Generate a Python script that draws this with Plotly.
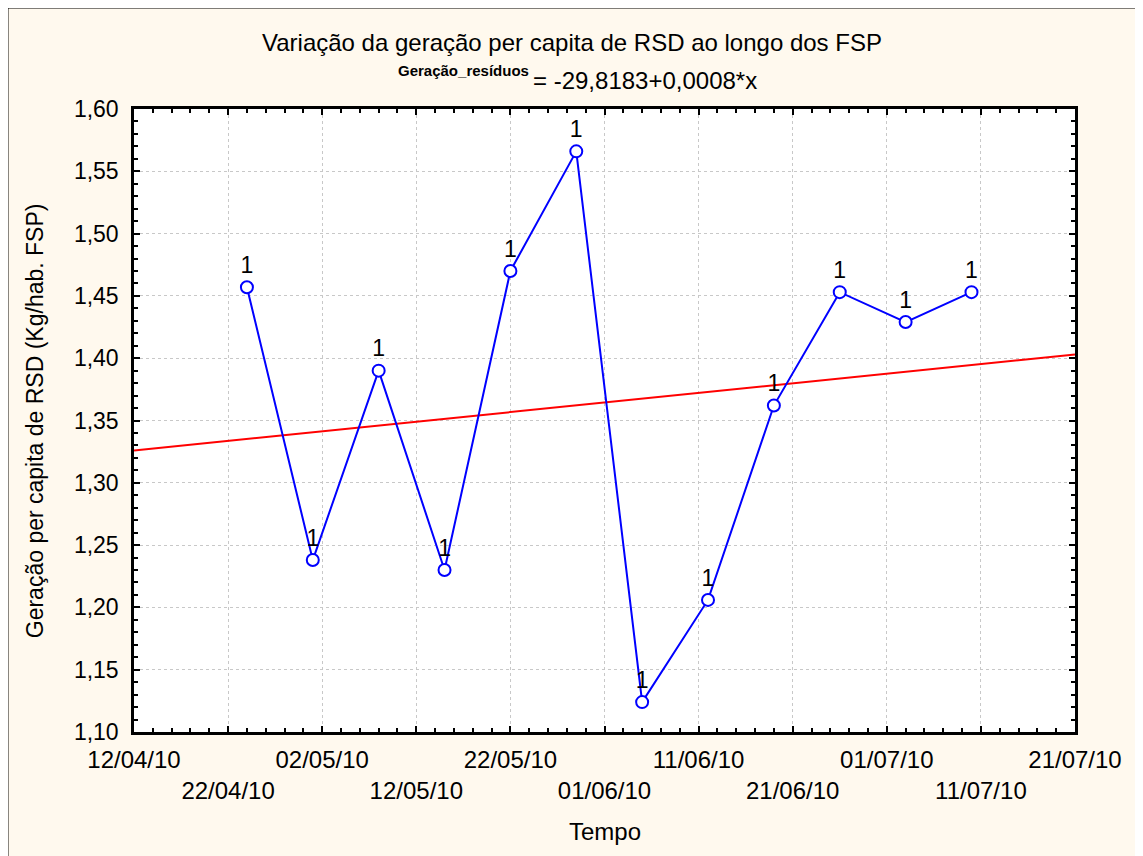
import numpy as np
import pandas as pd
import plotly.graph_objects as go

# ---- data ----
dates = ["2010-04-24", "2010-05-01", "2010-05-08", "2010-05-15", "2010-05-22", "2010-05-29",
         "2010-06-05", "2010-06-12", "2010-06-19", "2010-06-26", "2010-07-03", "2010-07-10"]
values = [1.457, 1.238, 1.390, 1.230, 1.470, 1.566, 1.124, 1.206, 1.362, 1.453, 1.429, 1.453]
point_labels = ["1"] * len(values)

x_tick_dates = ["2010-04-12", "2010-04-22", "2010-05-02", "2010-05-12", "2010-05-22", "2010-06-01",
                "2010-06-11", "2010-06-21", "2010-07-01", "2010-07-11", "2010-07-21"]
x_tick_text = ["12/04/10", "22/04/10", "02/05/10", "12/05/10", "22/05/10", "01/06/10",
               "11/06/10", "21/06/10", "01/07/10", "11/07/10", "21/07/10"]
y_tick_vals = [1.10, 1.15, 1.20, 1.25, 1.30, 1.35, 1.40, 1.45, 1.50, 1.55, 1.60]
y_tick_text = ["1,10", "1,15", "1,20", "1,25", "1,30", "1,35", "1,40", "1,45", "1,50", "1,55", "1,60"]

title_text = "Variação da geração per capita de RSD ao longo dos FSP"
eq_var = "Geração_resíduos"
eq_text = "= -29,8183+0,0008*x"
x_title = "Tempo"
y_title = "Geração per capita de RSD (Kg/hab. FSP)"

x_start, x_end = x_tick_dates[0], x_tick_dates[-1]

# ---- regression line (computed from data) ----
d = pd.to_datetime(dates)
t0 = pd.Timestamp(x_start)
days = np.array([(v - t0).days for v in d], dtype=float)
slope, intercept = np.polyfit(days, np.array(values), 1)
fit_x = pd.to_datetime([x_start, x_end])
fit_days = np.array([(v - t0).days for v in fit_x], dtype=float)
fit_y = intercept + slope * fit_days

# alternate tick labels onto two rows
tick_text_rows = [t if i % 2 == 0 else "<br>" + t for i, t in enumerate(x_tick_text)]

FONT = "Arial, 'Liberation Sans', sans-serif"

fig = go.Figure()
fig.add_trace(go.Scatter(x=fit_x, y=fit_y, mode="lines",
                         line=dict(color="#ff0000", width=2), hoverinfo="skip"))
fig.add_trace(go.Scatter(x=d, y=values, mode="lines+markers+text",
                         text=point_labels, textposition="top center",
                         textfont=dict(family=FONT, size=23, color="black"),
                         line=dict(color="#0000ff", width=2),
                         marker=dict(symbol="circle", size=12, color="white",
                                     line=dict(color="#0000ff", width=2))))

DAY = 86400000
fig.update_xaxes(type="date", range=[x_start, x_end],
                 tickvals=x_tick_dates, ticktext=tick_text_rows, tickangle=0,
                 tickfont=dict(family=FONT, size=24, color="black"),
                 ticks="inside", ticklen=6, tickwidth=2, tickcolor="black",
                 ticklabelstandoff=4,
                 showline=True, linewidth=2.5, linecolor="black", mirror="ticks",
                 showgrid=True, gridcolor="#c8c8c8", gridwidth=1, griddash="dot",
                 zeroline=False,
                 minor=dict(ticks="inside", ticklen=4, tickwidth=1.5, tickcolor="black",
                            dtick=2 * DAY, tick0=x_start, showgrid=False))
fig.update_yaxes(range=[1.10, 1.60], tickvals=y_tick_vals, ticktext=y_tick_text,
                 tickfont=dict(family=FONT, size=23, color="black"),
                 ticks="inside", ticklen=6, tickwidth=2, tickcolor="black",
                 ticklabelstandoff=8,
                 showline=True, linewidth=2.5, linecolor="black", mirror="ticks",
                 showgrid=True, gridcolor="#c8c8c8", gridwidth=1, griddash="dot",
                 zeroline=False,
                 minor=dict(ticks="inside", ticklen=4, tickwidth=1.5, tickcolor="black",
                            dtick=0.01, showgrid=False))

fig.update_layout(
    width=1143, height=856,
    margin=dict(l=126, r=76, t=101, b=132),
    paper_bgcolor="#fff9ee", plot_bgcolor="white",
    showlegend=False,
    font=dict(family=FONT, color="black"),
    annotations=[
        dict(text=title_text, xref="paper", yref="paper", x=0.4655, y=1.1075,
             xanchor="center", yanchor="middle", showarrow=False,
             font=dict(family=FONT, size=24, color="black")),
        dict(text="<b>" + eq_var + "</b>", xref="paper", yref="paper", x=0.4219, y=1.062,
             xanchor="right", yanchor="middle", showarrow=False,
             font=dict(family=FONT, size=15, color="black")),
        dict(text=eq_text, xref="paper", yref="paper", x=0.4219, y=1.045,
             xanchor="left", yanchor="middle", showarrow=False,
             font=dict(family=FONT, size=24, color="black")),
        dict(text=x_title, xref="paper", yref="paper", x=0.5, y=-0.16,
             xanchor="center", yanchor="middle", showarrow=False,
             font=dict(family=FONT, size=24, color="black")),
        dict(text=y_title, xref="paper", yref="paper", x=-0.1055, y=0.5,
             xanchor="center", yanchor="middle", showarrow=False, textangle=-90,
             font=dict(family=FONT, size=23, color="black")),
    ],
    shapes=[
        dict(type="line", xref="paper", yref="paper", x0=-0.135, x1=-0.135, y0=-0.3, y1=1.166,
             line=dict(color="black", width=3)),
        dict(type="line", xref="paper", yref="paper", x0=-0.137, x1=1.2, y0=1.1637, y1=1.1637,
             line=dict(color="black", width=3)),
    ],
)

fig.write_html("out.html")
